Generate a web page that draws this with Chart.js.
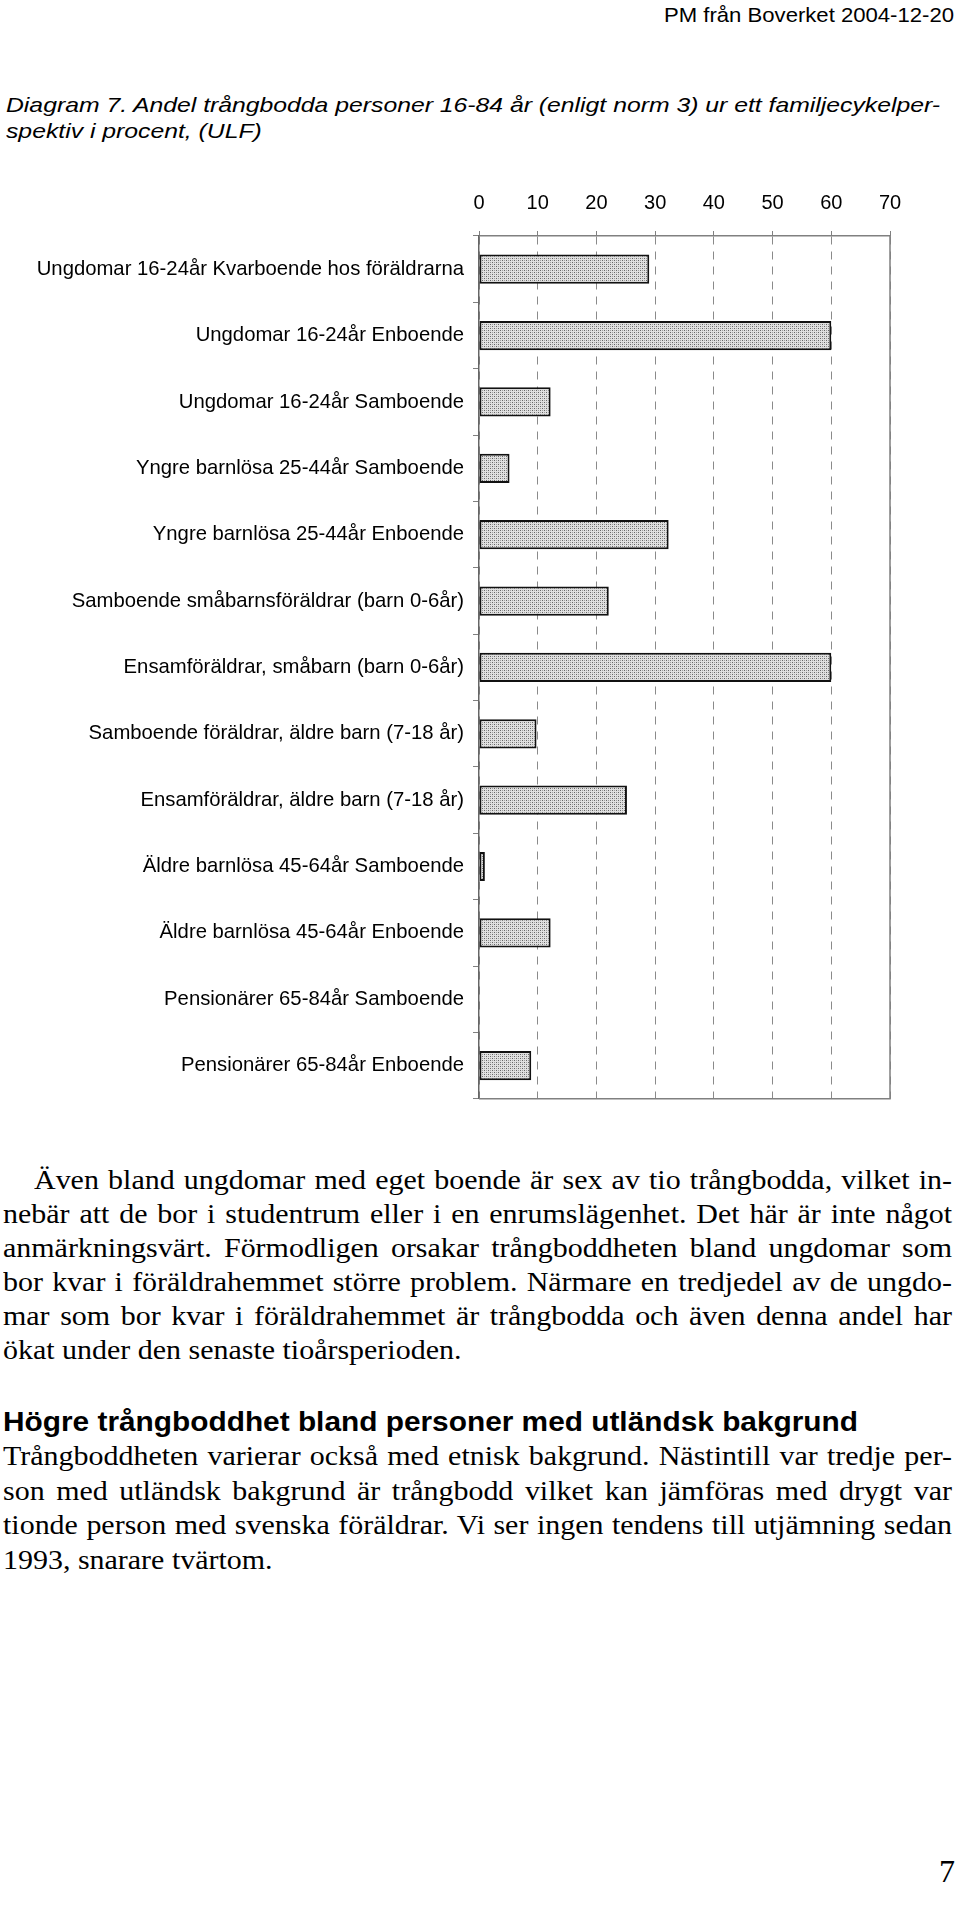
<!DOCTYPE html>
<html>
<head>
<meta charset="utf-8">
<script src="https://cdn.jsdelivr.net/npm/chart.js@4/dist/chart.umd.min.js"></script>
<style>
html, body { margin: 0; padding: 0; background: #fff; }
body { width: 960px; height: 1915px; position: relative; overflow: hidden; }
.ln { position: absolute; white-space: nowrap; transform-origin: 0 50%; color: #000; }
.sans { font-family: "Liberation Sans", Arial, sans-serif; }
.serif { font-family: "Liberation Serif", "Times New Roman", serif; font-size: 28px; }
#wrap { position: absolute; left: 0; top: 170px; width: 960px; height: 950px; }
</style>
</head>
<body>
<div id="wrap"><canvas id="chart"></canvas></div>
<script>
// chart data
const categories = [
    'Ungdomar 16-24år Kvarboende hos föräldrarna',
    'Ungdomar 16-24år Enboende',
    'Ungdomar 16-24år Samboende',
    'Yngre barnlösa 25-44år Samboende',
    'Yngre barnlösa 25-44år Enboende',
    'Samboende småbarnsföräldrar (barn 0-6år)',
    'Ensamföräldrar, småbarn (barn 0-6år)',
    'Samboende föräldrar, äldre barn (7-18 år)',
    'Ensamföräldrar, äldre barn (7-18 år)',
    'Äldre barnlösa 45-64år Samboende',
    'Äldre barnlösa 45-64år Enboende',
    'Pensionärer 65-84år Samboende',
    'Pensionärer 65-84år Enboende'
];
const shares = [29, 60, 12.2, 5.2, 32.3, 22.1, 60, 9.8, 25.2, 1.0, 12.2, 0, 8.9];
const xTicks = [0, 10, 20, 30, 40, 50, 60, 70];

// page text
const header = 'PM från Boverket 2004-12-20';
const titleLines = [
    'Diagram 7. Andel trångbodda personer 16-84 år (enligt norm 3) ur ett familjecykelper-',
    'spektiv i procent, (ULF)'
];
const para1 = [
    'Även bland ungdomar med eget boende är sex av tio trångbodda, vilket in-',
    'nebär att de bor i studentrum eller i en enrumslägenhet. Det här är inte något',
    'anmärkningsvärt. Förmodligen orsakar trångboddheten bland ungdomar som',
    'bor kvar i föräldrahemmet större problem. Närmare en tredjedel av de ungdo-',
    'mar som bor kvar i föräldrahemmet är trångbodda och även denna andel har',
    'ökat under den senaste tioårsperioden.'
];
const heading = 'Högre trångboddhet bland personer med utländsk bakgrund';
const para2 = [
    'Trångboddheten varierar också med etnisk bakgrund. Nästintill var tredje per-',
    'son med utländsk bakgrund är trångbodd vilket kan jämföras med drygt var',
    'tionde person med svenska föräldrar. Vi ser ingen tendens till utjämning sedan',
    '1993, snarare tvärtom.'
];
const pageNo = '7';

// the scanned page is not square-scaled, so each text line gets a scaleX
function addLine(txt, cls, style, x, cy, h, opts) {
    const el = document.createElement('div');
    el.className = 'ln ' + cls;
    el.textContent = txt;
    Object.assign(el.style, style);
    el.style.left = x + 'px';
    el.style.top = (cy - h / 2) + 'px';
    el.style.lineHeight = h + 'px';
    document.body.appendChild(el);
    const nat = el.getBoundingClientRect().width;
    let s = opts.scale || 1;
    if (opts.w && opts.justify) {
        const spaces = (txt.match(/ /g) || []).length;
        const extra = opts.w / s - nat;
        if (extra > 0 && spaces) el.style.wordSpacing = (extra / spaces) + 'px';
        else s = opts.w / nat;
    } else if (opts.w) {
        s = opts.w / nat;
    }
    if (opts.right != null) el.style.left = (opts.right - nat * s) + 'px';
    el.style.transform = 'scaleX(' + s + ')';
    return s;
}

addLine(header, 'sans', { fontSize: '21px' }, 0, 15, 24, { w: 290, right: 954 });
const ts = addLine(titleLines[0], 'sans', { fontSize: '21px', fontStyle: 'italic' }, 6, 105, 26, { w: 934 });
addLine(titleLines[1], 'sans', { fontSize: '21px', fontStyle: 'italic' }, 6, 131, 26, { scale: ts });

const bodyScale = 1.07;
para1.forEach((t, i) => {
    const last = i === para1.length - 1;
    const x = i === 0 ? 34 : 3;
    addLine(t, 'serif', {}, x, 1180 + i * 34, 34,
        last ? { scale: bodyScale } : { scale: bodyScale, justify: true, w: 952 - x });
});
addLine(heading, 'sans', { fontSize: '27px', fontWeight: 'bold' }, 3, 1422, 32, { w: 855 });
para2.forEach((t, i) => {
    const last = i === para2.length - 1;
    addLine(t, 'serif', {}, 3, 1456 + i * 34.5, 34,
        last ? { scale: bodyScale } : { scale: bodyScale, justify: true, w: 949 });
});
addLine(pageNo, 'serif', { fontSize: '32px' }, 0, 1871, 36, { scale: 1.0, right: 955 });

// chart
const canvas = document.getElementById('chart');
const ctx = canvas.getContext('2d');

const tile = document.createElement('canvas');
tile.width = 4; tile.height = 4;
const tg = tile.getContext('2d');
tg.fillStyle = '#e0e0e0'; tg.fillRect(0, 0, 4, 4);
tg.fillStyle = '#666'; tg.fillRect(0, 0, 1, 1); tg.fillRect(2, 2, 1, 1);
tg.fillStyle = '#a0a0a0'; tg.fillRect(2, 0, 1, 1); tg.fillRect(0, 2, 1, 1);
const dots = ctx.createPattern(tile, 'repeat');

const frame = {
    id: 'frame',
    beforeDatasetsDraw(chart) {
        const { ctx, chartArea: a } = chart;
        ctx.save();
        ctx.strokeStyle = '#808080';
        ctx.lineWidth = 1.5;
        ctx.beginPath();
        ctx.moveTo(a.left, a.bottom);
        ctx.lineTo(a.right, a.bottom);
        ctx.lineTo(a.right, a.top);
        ctx.stroke();
        ctx.restore();
    }
};

new Chart(ctx, {
    type: 'bar',
    data: {
        labels: categories,
        datasets: [{
            data: shares,
            backgroundColor: dots,
            borderColor: '#111',
            borderWidth: 2,
            borderSkipped: false,
            categoryPercentage: 1,
            barPercentage: 0.44
        }]
    },
    options: {
        indexAxis: 'y',
        responsive: true,
        maintainAspectRatio: false,
        animation: false,
        layout: { padding: { left: 0, right: 70, top: 0, bottom: 19 } },
        plugins: { legend: { display: false }, tooltip: { enabled: false } },
        scales: {
            x: {
                position: 'top',
                min: 0,
                max: 70,
                afterBuildTicks: (s) => { s.ticks = xTicks.map(v => ({ value: v })); },
                afterFit: (s) => { s.height = 66; },
                grid: { color: '#8a8a8a', lineWidth: 1, drawTicks: true, tickLength: 5, tickColor: '#808080' },
                border: { display: true, color: '#808080', width: 1.5, dash: [8, 7] },
                ticks: { color: '#000', font: { family: 'Liberation Sans', size: 20 }, padding: 16 }
            },
            y: {
                afterFit: (s) => { s.width = 479; },
                grid: { drawOnChartArea: false, drawTicks: true, tickLength: 6, color: '#808080' },
                border: { display: true, color: '#666', width: 1.5 },
                ticks: { color: '#000', font: { family: 'Liberation Sans', size: 20.3 }, padding: 9, autoSkip: false }
            }
        }
    },
    plugins: [frame]
});
</script>
</body>
</html>
